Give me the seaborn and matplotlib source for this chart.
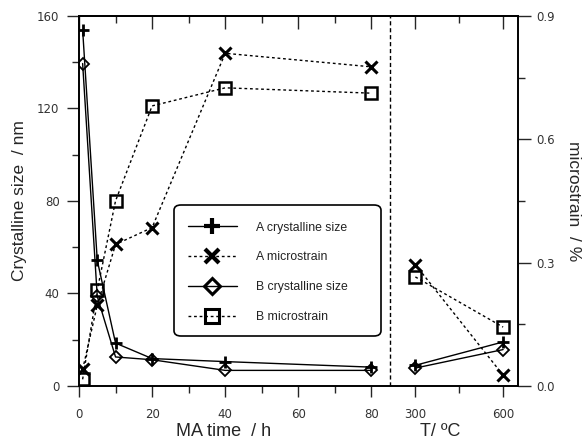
import numpy as np
import matplotlib.pyplot as plt
from matplotlib.lines import Line2D
from matplotlib.patches import FancyBboxPatch
from matplotlib.ticker import FixedLocator
import seaborn as sns

sns.set_style('ticks')
plt.rcParams['font.family'] = ['Liberation Sans', 'DejaVu Sans']

# --- data: mechanical alloying time (h) ---
ma_time = [1, 5, 10, 20, 40, 80]
a_size_ma = [154, 54.3, 18.5, 11.8, 10.5, 8.1]
b_size_ma = [139.4, 38.7, 12.5, 11.3, 6.7, 6.7]
a_strain_ma = [0.040, 0.196, 0.344, 0.385, 0.809, 0.776]
b_strain_ma = [0.016, 0.233, 0.450, 0.681, 0.725, 0.712]

# --- data: annealing temperature (ºC) ---
temp = [300, 600]
a_size_t = [8.9, 19.0]
b_size_t = [7.7, 15.7]
a_strain_t = [0.295, 0.026]
b_strain_t = [0.265, 0.143]

legend_labels = ['A crystalline size', 'A microstrain', 'B crystalline size', 'B microstrain']


def t_pos(t):
    # temperature block sits to the right of the MA-time block on the same axis
    return 92 + (np.asarray(t, dtype=float) - 300) * 0.08


dotted = (0, (2, 2))
styles = {
    'A size': dict(marker='+', markersize=9, markeredgewidth=2.0, linestyle='-'),
    'B size': dict(marker='D', markersize=6, markeredgewidth=1.3, markerfacecolor='none', linestyle='-'),
    'A strain': dict(marker='x', markersize=8, markeredgewidth=2.2, linestyle=dotted),
    'B strain': dict(marker='s', markersize=8.5, markeredgewidth=1.8, markerfacecolor='none', linestyle=dotted),
}

fig = plt.figure(figsize=(5.85, 4.41), dpi=100)
ax = fig.add_axes([0.135, 0.125, 0.75, 0.839])
ax2 = ax.twinx()

for x, y, key in [(ma_time, a_size_ma, 'A size'), (t_pos(temp), a_size_t, 'A size'),
                  (ma_time, b_size_ma, 'B size'), (t_pos(temp), b_size_t, 'B size')]:
    sns.lineplot(x=x, y=y, ax=ax, color='black', lw=1, mec='black', errorbar=None, **styles[key])

for x, y, key in [(ma_time, a_strain_ma, 'A strain'), (t_pos(temp), a_strain_t, 'A strain'),
                  (ma_time, b_strain_ma, 'B strain'), (t_pos(temp), b_strain_t, 'B strain')]:
    sns.lineplot(x=x, y=y, ax=ax2, color='black', lw=1, mec='black', errorbar=None, **styles[key])

ax.axvline(85, color='black', lw=1, linestyle=(0, (3, 2)))

ax.set_xlim(0, 120)
ax.set_ylim(0, 160)
ax2.set_ylim(0, 0.9)

major_x = [0, 20, 40, 60, 80] + list(t_pos(temp))
minor_x = [10, 30, 50, 70] + list(t_pos([450]))
ax.set_xticks(major_x)
ax.set_xticklabels(['0', '20', '40', '60', '80', '300', '600'])
ax.xaxis.set_minor_locator(FixedLocator(minor_x))
ax.set_yticks([0, 40, 80, 120, 160])
ax.yaxis.set_minor_locator(FixedLocator([20, 60, 100, 140]))
ax2.set_yticks([0, 0.3, 0.6, 0.9])
ax2.set_yticklabels(['0.0', '0.3', '0.6', '0.9'])
ax2.yaxis.set_minor_locator(FixedLocator([0.15, 0.45, 0.75]))

tick_font = dict(labelsize=8.5, labelcolor='#333333', labelfontfamily='DejaVu Sans')
ax.tick_params(axis='x', which='major', direction='out', length=8, width=1, pad=8, **tick_font)
ax.tick_params(axis='x', which='minor', direction='out', length=5, width=1)
ax.tick_params(axis='y', which='major', direction='out', length=9, width=1, pad=5, **tick_font)
ax.tick_params(axis='y', which='minor', direction='out', length=5, width=1)
ax2.tick_params(axis='y', which='major', direction='out', length=9, width=1, pad=4, **tick_font)
ax2.tick_params(axis='y', which='minor', direction='out', length=5, width=1)

# top ticks point inward, without labels
ax_top = ax.secondary_xaxis('top')
ax_top.set_xticks(major_x)
ax_top.set_xticklabels([])
ax_top.xaxis.set_minor_locator(FixedLocator(minor_x))
ax_top.tick_params(which='major', direction='in', length=9, width=1)
ax_top.tick_params(which='minor', direction='in', length=5, width=1)

for a in (ax, ax2):
    for s in a.spines.values():
        s.set_linewidth(1.2)
        s.set_color('black')
ax_top.spines['top'].set_linewidth(1.2)

ax.set_xlabel('')
ax.set_ylabel('Crystalline size  / nm', fontsize=12.5, labelpad=7)
ax2.set_ylabel('microstrain  / %', fontsize=12.5, rotation=270, labelpad=19)
fig.text(224 / 585, 1 - 432 / 441, 'MA time  / h', fontsize=13, ha='center', va='center')
fig.text(440 / 585, 1 - 432 / 441, 'T/ ºC', fontsize=13, ha='center', va='center')

# legend box drawn separately so it matches the wide rounded frame
box = FancyBboxPatch((174 / 585, 1 - 336 / 441), (381 - 174) / 585, (336 - 205) / 441,
                     boxstyle='round,pad=0,rounding_size=0.012', transform=fig.transFigure,
                     facecolor='white', edgecolor='black', linewidth=1.2, zorder=5)
fig.patches.append(box)

handles = [
    Line2D([], [], color='black', lw=1, mec='black', **{**styles['A size'], 'markersize': 11, 'markeredgewidth': 3}),
    Line2D([], [], color='black', lw=1, mec='black', **{**styles['A strain'], 'markersize': 10, 'markeredgewidth': 3}),
    Line2D([], [], color='black', lw=1, mec='black', **{**styles['B size'], 'markersize': 8, 'markeredgewidth': 2.2}),
    Line2D([], [], color='black', lw=1, mec='black', **{**styles['B strain'], 'markersize': 9.5, 'markeredgewidth': 2.2}),
]
leg = fig.legend(handles, legend_labels, loc='upper left', bbox_to_anchor=(184 / 585, 1 - 218 / 441),
                 fontsize=8.8, handlelength=4.0, handletextpad=1.6, labelspacing=1.45,
                 borderpad=0.3, borderaxespad=0, frameon=False)
leg.set_zorder(6)
for t in leg.get_texts():
    t.set_color('#222222')

fig.savefig('out.png', dpi=100)
